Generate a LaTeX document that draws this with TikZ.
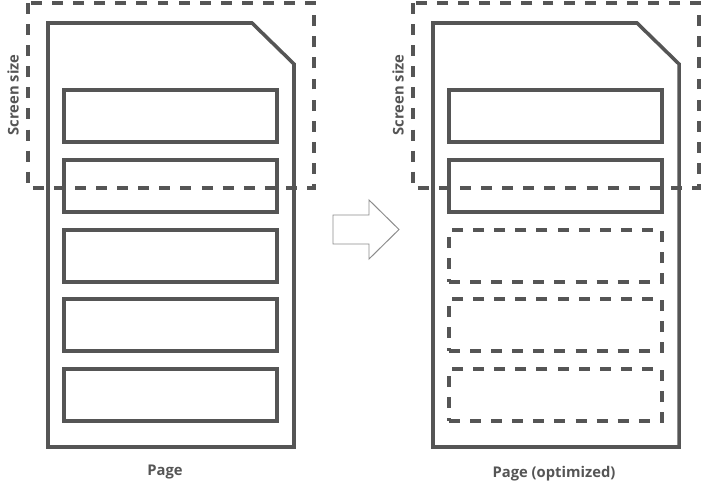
\documentclass[tikz,border=0pt]{standalone}
\usepackage{fontspec}
\setmainfont{Open Sans}
\usepackage{xcolor}
\usepackage{tikz}
\definecolor{linegray}{HTML}{555555}
\definecolor{textgray}{HTML}{555555}

\begin{document}
\begin{tikzpicture}[x=0.025cm, y=-0.025cm,
  outline/.style={draw=linegray, line width=2.5pt},
  dashline/.style={outline, dash pattern=on 7.8pt off 7.2pt},
  block/.style={outline, rectangle, inner sep=0pt, minimum width=5.325cm, minimum height=1.3cm},
  caption/.style={text=textgray, font=\fontsize{10.5}{12}\selectfont\bfseries}]
  \useasboundingbox (0,0) rectangle (702,484);
  % left page
  \draw[outline] (48,23) -- (252,23) -- (294,64) -- (294,447) -- (48,447) -- cycle;
  \foreach \i/\y in {1/116,2/186,3/256,4/325,5/395}
    \node[block] (l\i) at (170.5,\y) {};
  \draw[dashline] (28,3) rectangle (314,188);
  \node[caption, rotate=90] (lscreen) at (13,95) {Screen size};
  \node[caption] (lpage) at (165,472) {Page};
  % arrow
  \draw[draw=gray!90, line width=0.7pt, fill=white] (333,215) -- (369,215) -- (369,200)
    -- (399,229.5) -- (369,259) -- (369,244) -- (333,244) -- cycle;
  % right page
  \draw[outline] (433,23) -- (637,23) -- (679,64) -- (679,447) -- (433,447) -- cycle;
  \foreach \i/\y in {1/116,2/186}
    \node[block] (r\i) at (555.5,\y) {};
  \foreach \i/\y in {3/256,4/325,5/395}
    \node[block, dashline] (r\i) at (555.5,\y) {};
  \draw[dashline] (413,3) rectangle (699,188);
  \node[caption, rotate=90] (rscreen) at (398,95) {Screen size};
  \node[caption] (rpage) at (554,474) {Page (optimized)};
\end{tikzpicture}
\end{document}
